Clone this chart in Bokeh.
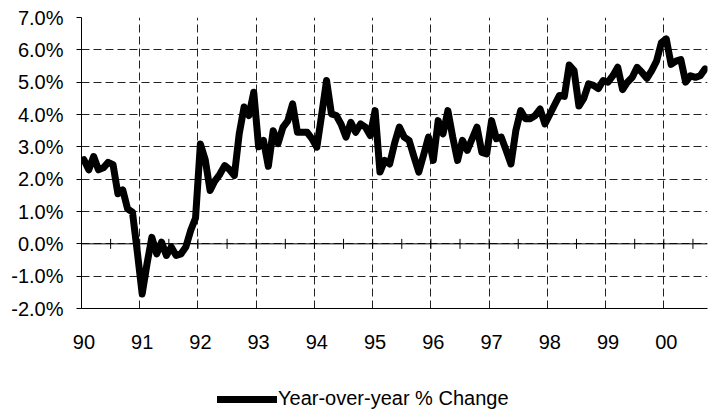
import math
from bokeh.plotting import figure
from bokeh.layouts import column
from bokeh.models import Range1d, FixedTicker, PrintfTickFormatter, Span, Legend, LegendItem
from bokeh.embed import file_html
from bokeh.resources import INLINE

# ---- data (monthly year-over-year % change, Jan 1990 - Sep 2000) ----
y1990 = [2.60, 2.29, 2.70, 2.29, 2.35, 2.52, 2.45, 1.55, 1.67, 1.08, 0.98, -0.25]
y1991 = [-1.55, -0.62, 0.20, -0.31, 0.05, -0.36, -0.10, -0.36, -0.31, -0.10, 0.41, 0.80]
y1992 = [3.09, 2.60, 1.65, 1.95, 2.15, 2.42, 2.30, 2.11, 3.40, 4.23, 3.97, 4.69]
y1993 = [3.00, 3.20, 2.40, 3.50, 3.10, 3.60, 3.80, 4.33, 3.45, 3.45, 3.45, 3.25]
y1994 = [2.99, 4.00, 5.05, 4.02, 3.97, 3.70, 3.30, 3.76, 3.45, 3.71, 3.61, 3.35]
y1995 = [4.12, 2.22, 2.58, 2.47, 3.10, 3.61, 3.30, 3.20, 2.70, 2.22, 2.75, 3.30]
y1996 = [2.58, 3.81, 3.40, 4.12, 3.30, 2.58, 3.20, 2.89, 3.25, 3.61, 2.83, 2.78]
y1997 = [3.81, 3.25, 3.30, 2.89, 2.47, 3.50, 4.12, 3.87, 3.87, 3.97, 4.17, 3.71]
y1998 = [4.00, 4.30, 4.59, 4.56, 5.53, 5.36, 4.26, 4.50, 4.95, 4.90, 4.80, 5.05]
y1999 = [5.00, 5.20, 5.46, 4.77, 5.00, 5.15, 5.46, 5.30, 5.12, 5.36, 5.65, 6.22]
y2000 = [6.34, 5.55, 5.65, 5.70, 5.00, 5.20, 5.15, 5.20, 5.41]

year_labels = ["90", "91", "92", "93", "94", "95", "96", "97", "98", "99", "00"]
y_ticks = [-2, -1, 0, 1, 2, 3, 4, 5, 6, 7]
series_name = "Year-over-year % Change"

values = y1990 + y1991 + y1992 + y1993 + y1994 + y1995 + y1996 + y1997 + y1998 + y1999 + y2000
n = len(values)
xs = [i + 0.5 for i in range(n)]          # category centres
year_starts = [12 * k for k in range(len(year_labels))]
label_pos = [s + 0.5 for s in year_starts]
half_year_ticks = [6 * k for k in range(1, n // 6 + 1)]

FONT = "Liberation Sans"

p = figure(width=710, height=365, output_backend="svg", toolbar_location=None,
           x_range=Range1d(0, n), y_range=Range1d(-2, 7),
           min_border_left=81, min_border_right=3, min_border_top=17, min_border_bottom=57)
p.outline_line_color = None
p.background_fill_color = "white"

# grids
p.ygrid.ticker = FixedTicker(ticks=y_ticks[1:])
p.ygrid.grid_line_color = "#222222"
p.ygrid.grid_line_dash = "8 4"
p.ygrid.grid_line_width = 1
p.xgrid.ticker = FixedTicker(ticks=year_starts[1:])
p.xgrid.grid_line_color = "#222222"
p.xgrid.grid_line_dash = "8 4"
p.xgrid.grid_line_width = 1

# y axis
p.yaxis.ticker = FixedTicker(ticks=y_ticks)
p.yaxis.formatter = PrintfTickFormatter(format="%.1f%%")
p.yaxis.axis_line_color = "black"
p.yaxis.major_tick_out = 5
p.yaxis.major_tick_in = 0
p.yaxis.minor_tick_line_color = None
p.yaxis.major_label_standoff = 13
p.yaxis.major_label_text_font = FONT
p.yaxis.major_label_text_font_size = "20px"
p.yaxis.major_label_text_color = "black"

# x axis (labels at bottom)
p.xaxis.ticker = FixedTicker(ticks=label_pos)
p.xaxis.major_label_overrides = {pos: lab for pos, lab in zip(label_pos, year_labels)}
p.xaxis.axis_line_color = "black"
p.xaxis.major_tick_line_color = None
p.xaxis.minor_tick_line_color = None
p.xaxis.major_label_standoff = 20
p.xaxis.major_label_text_font = FONT
p.xaxis.major_label_text_font_size = "20px"
p.xaxis.major_label_text_color = "black"

# zero line with tick marks
p.add_layout(Span(location=0, dimension="width", line_color="black", line_width=1))
p.scatter(x=half_year_ticks, y=[0] * len(half_year_ticks), marker="dash", size=10,
          angle=math.pi / 2, line_color="black", line_width=1)

p.line(xs, values, line_width=7, line_color="black", line_join="round", line_cap="round")

# legend strip below the chart (frame aligned with the chart's frame)
p2 = figure(width=710, height=45, output_backend="svg", toolbar_location=None,
            x_range=Range1d(0, 1), y_range=Range1d(0, 1),
            x_axis_type=None, y_axis_type=None,
            min_border_left=81, min_border_right=3, min_border_top=0, min_border_bottom=0)
p2.outline_line_color = None
p2.grid.visible = False
proxy = p2.line(x=[math.nan], y=[math.nan], line_width=7, line_color="black", line_cap="round")
legend = Legend(items=[LegendItem(label=series_name, renderers=[proxy])],
                location=(136, 0), orientation="horizontal",
                glyph_width=60, glyph_height=20, label_standoff=1,
                label_text_font=FONT, label_text_font_size="20px", label_text_color="black",
                padding=0, margin=0, spacing=0,
                border_line_color=None, background_fill_alpha=0)
p2.add_layout(legend)

layout = column(p, p2, spacing=0)
open("out.html", "w").write(file_html(layout, INLINE))
